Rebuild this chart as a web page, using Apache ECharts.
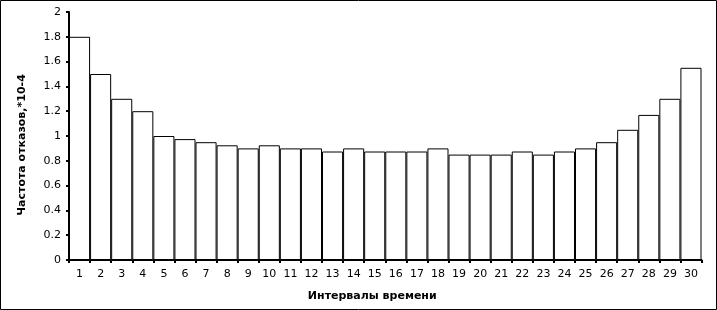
<!DOCTYPE html>
<html><head><meta charset="utf-8">
<script src="https://cdn.jsdelivr.net/npm/echarts@6/dist/echarts.min.js"></script>
<style>html,body{margin:0;padding:0;background:#fff}#c{width:717px;height:310px}</style>
</head><body><div id="c"></div>
<script>
const categories = ['1','2','3','4','5','6','7','8','9','10','11','12','13','14','15','16','17','18','19','20','21','22','23','24','25','26','27','28','29','30'];
const failureRate = [1.8,1.5,1.3,1.2,1.0,0.975,0.95,0.925,0.9,0.925,0.9,0.9,0.875,0.9,0.875,0.875,0.875,0.9,0.85,0.85,0.85,0.875,0.85,0.875,0.9,0.95,1.05,1.17,1.3,1.55];
const yTitle = 'Частота отказов,*10-4';
const xTitle = 'Интервалы времени';

const chart = echarts.init(document.getElementById('c'), null, {renderer:'canvas'});
const font = 'DejaVu Sans';
chart.setOption({
  animation: false,
  backgroundColor: '#fff',
  grid: {left: 69, right: 15.5, top: 12, bottom: 50, containLabel: false},
  xAxis: {
    type: 'category', data: categories,
    name: xTitle, nameLocation: 'middle', nameGap: 31,
    nameTextStyle: {fontFamily: font, fontSize: 11, fontWeight: 'bold', color: '#000', padding: [0, 26, 0, 0]},
    axisLine: {lineStyle: {color: '#000', width: 2}},
    axisTick: {show: true, length: 3, lineStyle: {color: '#000', width: 2}},
    axisLabel: {fontFamily: font, fontSize: 11, color: '#000', margin: 9, interval: 0},
    splitLine: {show: false}
  },
  yAxis: {
    type: 'value', min: 0, max: 2, interval: 0.2,
    name: yTitle, nameLocation: 'middle', nameGap: 41, nameRotate: 90,
    nameTextStyle: {fontFamily: font, fontSize: 11, fontWeight: 'bold', color: '#000', padding: [0, 18, 0, 0]},
    axisLine: {show: true, lineStyle: {color: '#000', width: 2}},
    axisTick: {show: true, length: 3, lineStyle: {color: '#000', width: 2}},
    axisLabel: {fontFamily: font, fontSize: 11, color: '#000', margin: 8,
      formatter: v => String(Math.round(v*10)/10)},
    splitLine: {show: false}
  },
  series: [{
    type: 'bar', data: failureRate, barCategoryGap: '0%', barGap: '0%',
    itemStyle: {color: '#fff', borderColor: '#000', borderWidth: 1}
  }],
  graphic: [{
    type: 'rect', silent: true, z: 100,
    shape: {x: 0.5, y: 0.5, width: 716, height: 309},
    style: {fill: null, stroke: '#000', lineWidth: 1}
  }]
});
</script></body></html>
